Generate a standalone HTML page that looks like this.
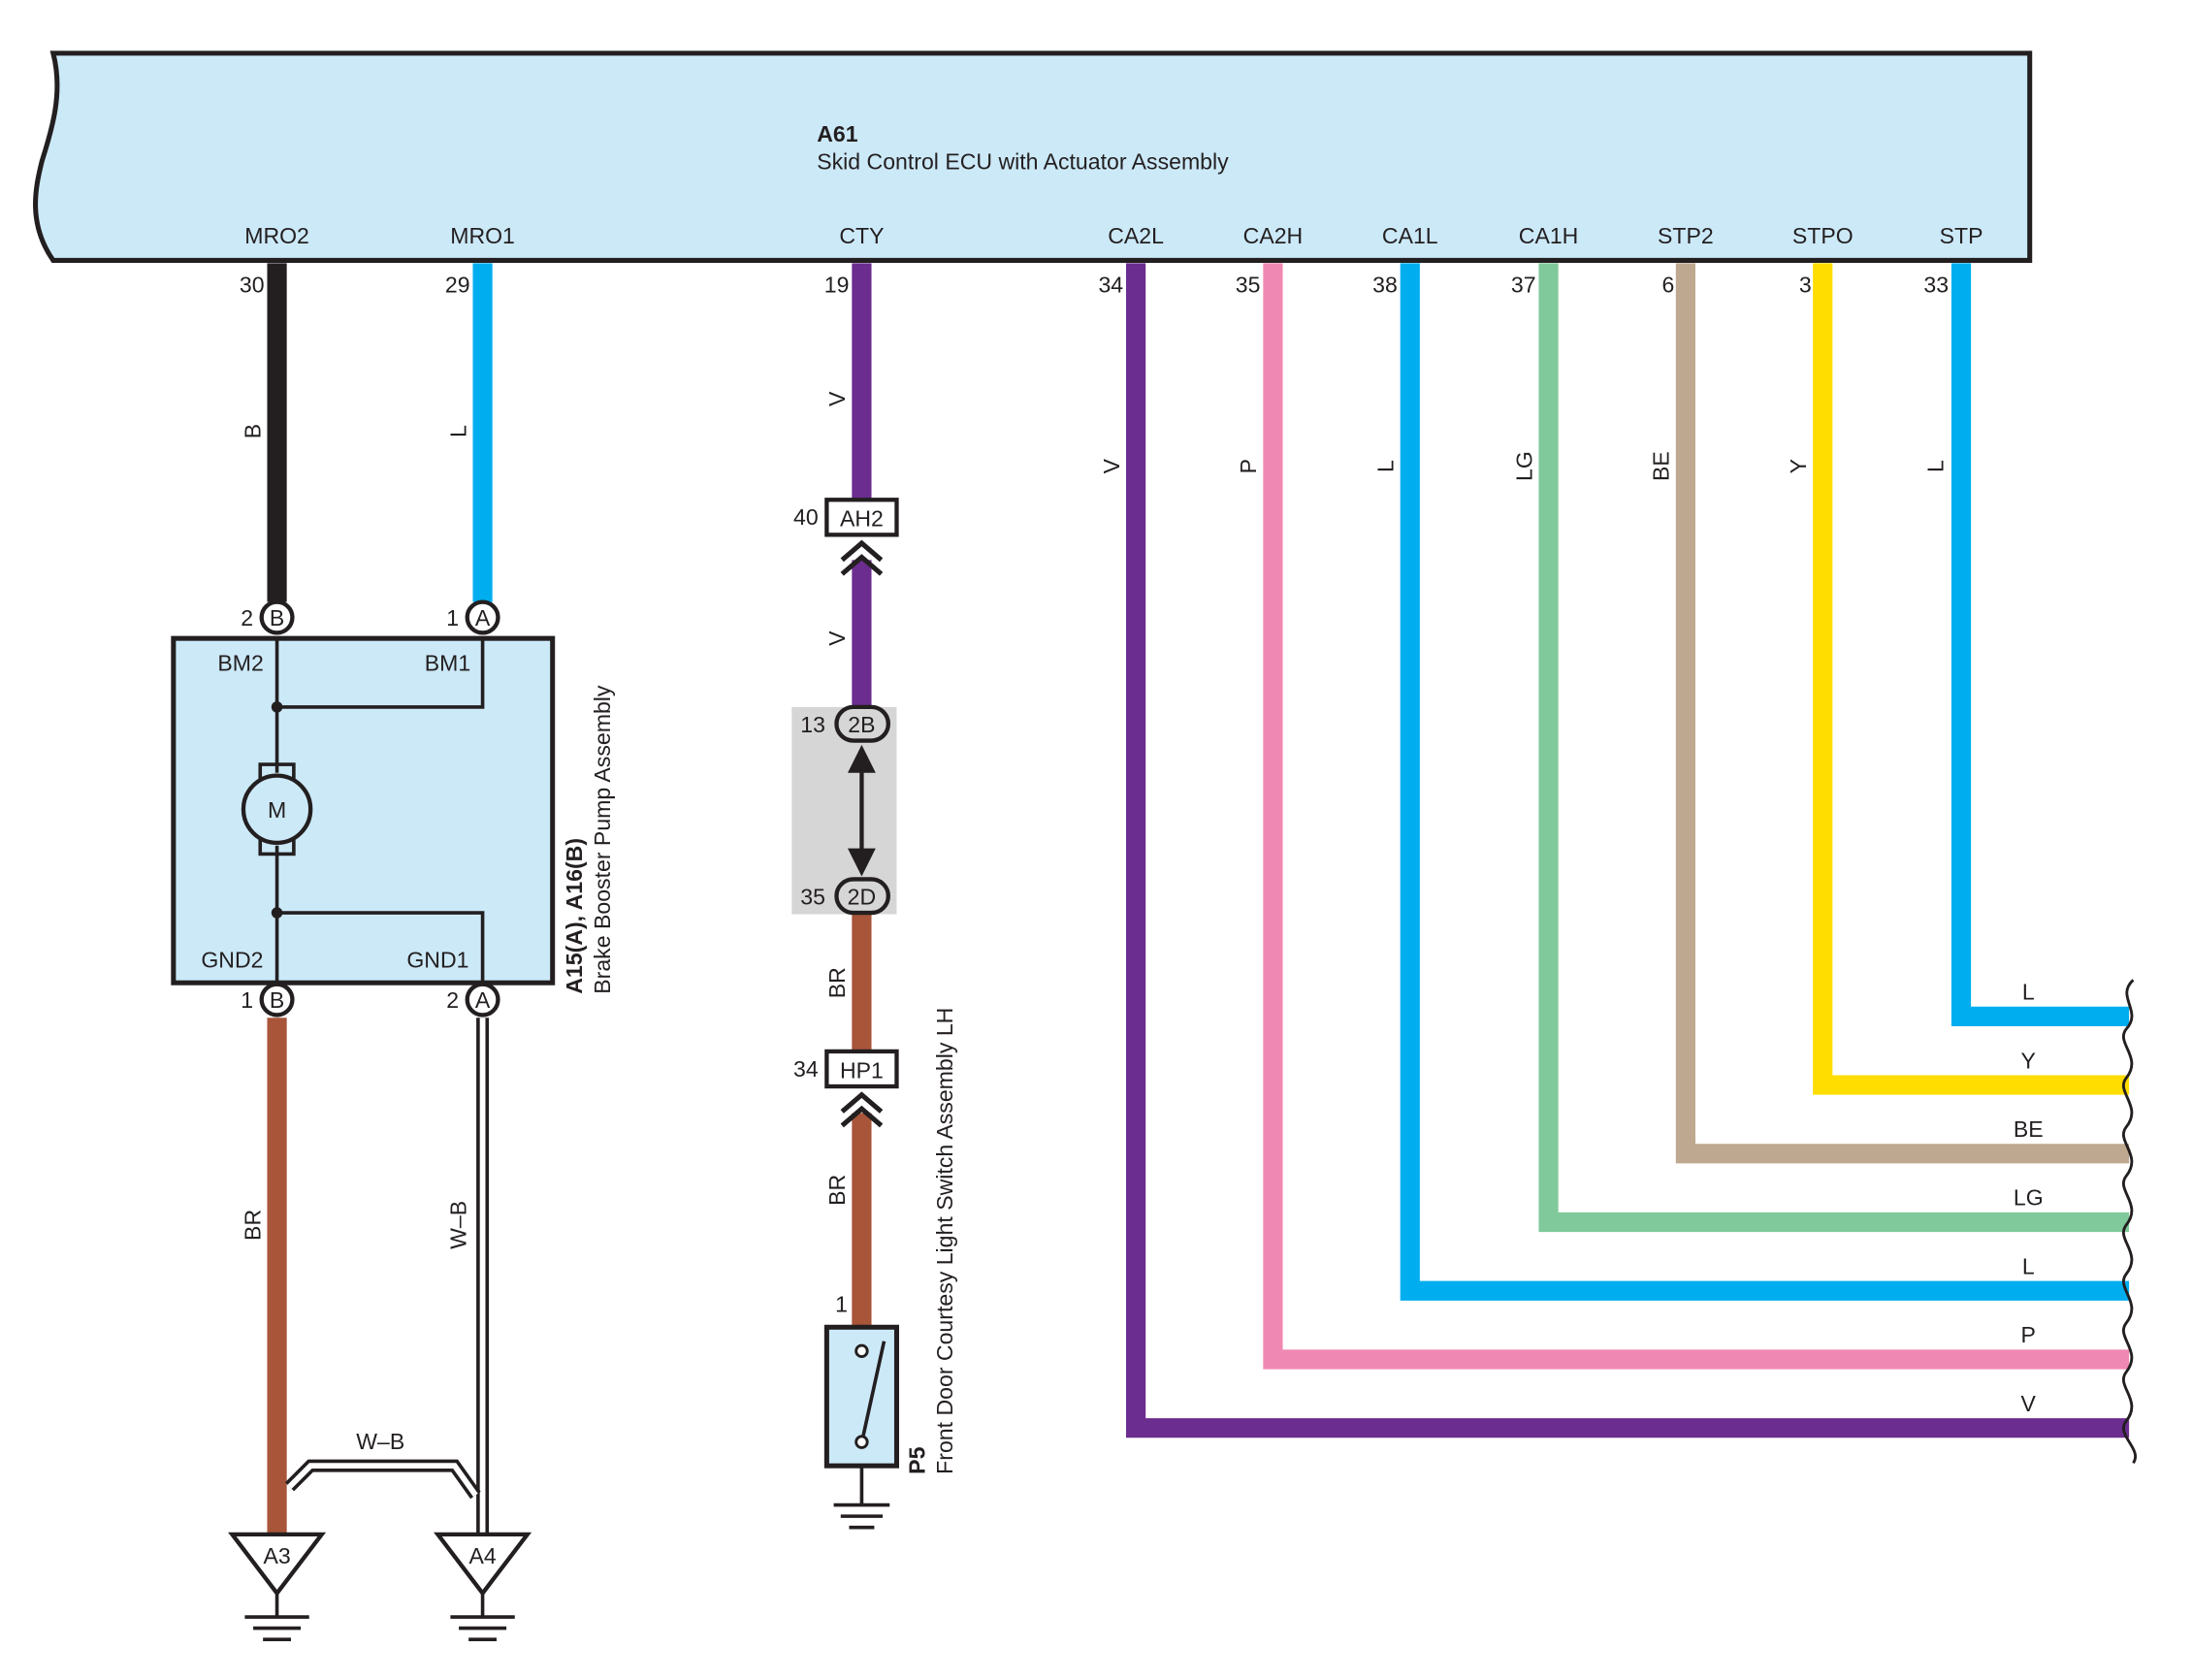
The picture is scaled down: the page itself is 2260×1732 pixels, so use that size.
<!DOCTYPE html>
<html><head><meta charset="utf-8"><style>
html,body{margin:0;padding:0;background:#fff;}
svg{display:block;}
text{font-family:"Liberation Sans",Arial,sans-serif;font-size:16px;fill:#231f20;}
</style></head><body>
<svg width="2260" height="1732" viewBox="0 0 1567 1200" preserveAspectRatio="none" xmlns="http://www.w3.org/2000/svg">
<!-- ECU -->
<path d="M38,38 L1451,38 L1451,186 L38,186 C20,160 25,135 30,115 C38,90 45,65 38,38 Z" fill="#cce9f8" stroke="#231f20" stroke-width="3.5"/>
<text x="584" y="101" font-weight="bold">A61</text>
<text x="584" y="121">Skid Control ECU with Actuator Assembly</text>
<g text-anchor="middle">
<text x="198" y="174">MRO2</text><text x="345" y="174">MRO1</text><text x="616" y="174">CTY</text>
<text x="812" y="174">CA2L</text><text x="910" y="174">CA2H</text><text x="1008" y="174">CA1L</text>
<text x="1107" y="174">CA1H</text><text x="1205" y="174">STP2</text><text x="1303" y="174">STPO</text><text x="1402" y="174">STP</text>
</g>
<g text-anchor="end">
<text x="189" y="209">30</text><text x="336" y="209">29</text><text x="607" y="209">19</text>
<text x="803" y="209">34</text><text x="901" y="209">35</text><text x="999" y="209">38</text>
<text x="1098" y="209">37</text><text x="1197" y="209">6</text><text x="1295" y="209">3</text><text x="1393" y="209">33</text>
</g>
<!-- right harness -->
<g fill="none" stroke-width="14" stroke-linejoin="miter">
<path d="M812,188 V1020 H1522" stroke="#6b2d8f"/>
<path d="M910,188 V971 H1522" stroke="#f088b4"/>
<path d="M1008,188 V922 H1522" stroke="#00aeef"/>
<path d="M1107,188 V873 H1522" stroke="#80c99a"/>
<path d="M1205,188 V824 H1522" stroke="#bfa890"/>
<path d="M1303,188 V775 H1522" stroke="#ffdd00"/>
<path d="M1402,188 V726 H1522" stroke="#00aeef"/>
</g>
<path d="M1525,700 C1512,712 1532,722 1520,735 C1512,745 1532,755 1520,770 C1512,780 1532,790 1520,805 C1512,815 1532,825 1520,840 C1512,850 1532,860 1520,875 C1512,885 1532,895 1520,910 C1512,920 1532,930 1520,945 C1512,955 1532,965 1520,980 C1512,990 1532,1000 1520,1015 C1512,1025 1532,1035 1525,1045" fill="none" stroke="#231f20" stroke-width="2"/>
<g text-anchor="middle">
<text x="1450" y="714">L</text><text x="1450" y="763">Y</text><text x="1450" y="812">BE</text>
<text x="1450" y="861">LG</text><text x="1450" y="910">L</text><text x="1450" y="959">P</text><text x="1450" y="1008">V</text>
</g>
<g text-anchor="middle">
<text transform="translate(800,333) rotate(-90)">V</text>
<text transform="translate(898,333) rotate(-90)">P</text>
<text transform="translate(996,333) rotate(-90)">L</text>
<text transform="translate(1095,333) rotate(-90)">LG</text>
<text transform="translate(1193,333) rotate(-90)">BE</text>
<text transform="translate(1291,333) rotate(-90)">Y</text>
<text transform="translate(1389,333) rotate(-90)">L</text>
<text transform="translate(186,308) rotate(-90)">B</text>
<text transform="translate(333,308) rotate(-90)">L</text>
<text transform="translate(604,285) rotate(-90)">V</text>
<text transform="translate(604,456) rotate(-90)">V</text>
<text transform="translate(604,702) rotate(-90)">BR</text>
<text transform="translate(604,850) rotate(-90)">BR</text>
<text transform="translate(186,875) rotate(-90)">BR</text>
<text transform="translate(333,875) rotate(-90)">W–B</text>
</g>
<!-- CTY line -->
<rect x="566" y="505" width="75" height="148" fill="#d6d6d6"/>
<g stroke-width="14" fill="none">
<path d="M616,188 V357" stroke="#6b2d8f"/>
<path d="M616,400 V505" stroke="#6b2d8f"/>
<path d="M616,653 V751" stroke="#a8553a"/>
<path d="M616,795 V948" stroke="#a8553a"/>
</g>
<rect x="591" y="357" width="50" height="25" fill="#fff" stroke="#231f20" stroke-width="3"/>
<text x="616" y="376" text-anchor="middle">AH2</text><text x="585" y="375" text-anchor="end">40</text>
<path d="M602,400 L616,388 L630,400 M602,410 L616,398 L630,410" fill="none" stroke="#231f20" stroke-width="3.5"/>
<rect x="591" y="751" width="50" height="25" fill="#fff" stroke="#231f20" stroke-width="3"/>
<text x="616" y="770" text-anchor="middle">HP1</text><text x="585" y="769" text-anchor="end">34</text>
<path d="M602,794 L616,782 L630,794 M602,804 L616,792 L630,804" fill="none" stroke="#231f20" stroke-width="3.5"/>
<rect x="598" y="505" width="37" height="24" rx="12" fill="#d6d6d6" stroke="#231f20" stroke-width="3"/>
<text x="616" y="523" text-anchor="middle">2B</text><text x="590" y="523" text-anchor="end">13</text>
<rect x="598" y="628" width="37" height="24" rx="12" fill="#d6d6d6" stroke="#231f20" stroke-width="3"/>
<text x="616" y="646" text-anchor="middle">2D</text><text x="590" y="646" text-anchor="end">35</text>
<path d="M616,540 V616" stroke="#231f20" stroke-width="3"/>
<path d="M606,552 L616,532 L626,552 Z M606,606 L616,626 L626,606 Z" fill="#231f20"/>
<text x="606" y="937" text-anchor="end">1</text>
<rect x="591" y="948" width="50" height="99" fill="#cce9f8" stroke="#231f20" stroke-width="3.5"/>
<circle cx="616" cy="965" r="4" fill="#fff" stroke="#231f20" stroke-width="2"/>
<circle cx="616" cy="1030" r="4" fill="#fff" stroke="#231f20" stroke-width="2"/>
<path d="M617,1026 L632,958" stroke="#231f20" stroke-width="2.5"/>
<path d="M616,1047 V1075 M596,1075 H636 M601,1083 H631 M607,1091 H625" stroke="#231f20" stroke-width="2.5"/>
<text transform="translate(661,1053) rotate(-90)" font-weight="bold">P5</text>
<text transform="translate(681,1053) rotate(-90)">Front Door Courtesy Light Switch Assembly LH</text>
<!-- pump wires -->
<path d="M198,188 V430" stroke="#231f20" stroke-width="14"/>
<path d="M345,188 V430" stroke="#00aeef" stroke-width="14"/>
<path d="M198,727 V1097" stroke="#a8553a" stroke-width="14"/>
<path d="M345,727 V1097" stroke="#231f20" stroke-width="9"/>
<path d="M345,727 V1097" stroke="#fff" stroke-width="4"/>
<path d="M207,1062 L222,1047 H325 L340,1068" fill="none" stroke="#231f20" stroke-width="9"/>
<path d="M207,1062 L222,1047 H325 L340,1068" fill="none" stroke="#fff" stroke-width="4"/>
<text x="272" y="1035" text-anchor="middle">W–B</text>
<!-- pump box -->
<rect x="124" y="456" width="271" height="246" fill="#cce9f8" stroke="#231f20" stroke-width="3.5"/>
<g fill="none" stroke="#231f20" stroke-width="2.5">
<path d="M198,456 V552 M345,456 V505 H198"/>
<path d="M198,604 V702 M198,652 H345 V702"/>
<rect x="186" y="546" width="24" height="64"/>
</g>
<circle cx="198" cy="505" r="4" fill="#231f20"/><circle cx="198" cy="652" r="4" fill="#231f20"/>
<circle cx="198" cy="578" r="24" fill="#cce9f8" stroke="#231f20" stroke-width="3"/>
<text x="198" y="584" text-anchor="middle">M</text>
<text x="172" y="479" text-anchor="middle">BM2</text><text x="320" y="479" text-anchor="middle">BM1</text>
<text x="166" y="691" text-anchor="middle">GND2</text><text x="313" y="691" text-anchor="middle">GND1</text>
<text transform="translate(416,710) rotate(-90)" font-weight="bold">A15(A), A16(B)</text>
<text transform="translate(436,710) rotate(-90)">Brake Booster Pump Assembly</text>
<g stroke="#231f20" stroke-width="3" fill="#fff">
<circle cx="198" cy="441" r="11"/><circle cx="345" cy="441" r="11"/>
<circle cx="198" cy="714" r="11"/><circle cx="345" cy="714" r="11"/>
</g>
<g text-anchor="middle">
<text x="198" y="447">B</text><text x="345" y="447">A</text><text x="198" y="720">B</text><text x="345" y="720">A</text>
</g>
<text x="181" y="447" text-anchor="end">2</text><text x="328" y="447" text-anchor="end">1</text>
<text x="181" y="720" text-anchor="end">1</text><text x="328" y="720" text-anchor="end">2</text>
<!-- grounds -->
<g stroke="#231f20" stroke-width="3" fill="#fff">
<path d="M166,1096 H230 L198,1138 Z"/><path d="M313,1096 H377 L345,1138 Z"/>
</g>
<text x="198" y="1117" text-anchor="middle">A3</text><text x="345" y="1117" text-anchor="middle">A4</text>
<path d="M198,1138 V1155 M175,1155 H221 M181,1163 H215 M188,1171 H208 M345,1138 V1155 M322,1155 H368 M328,1163 H362 M335,1171 H355" stroke="#231f20" stroke-width="2.5"/>
</svg>
</body></html>
